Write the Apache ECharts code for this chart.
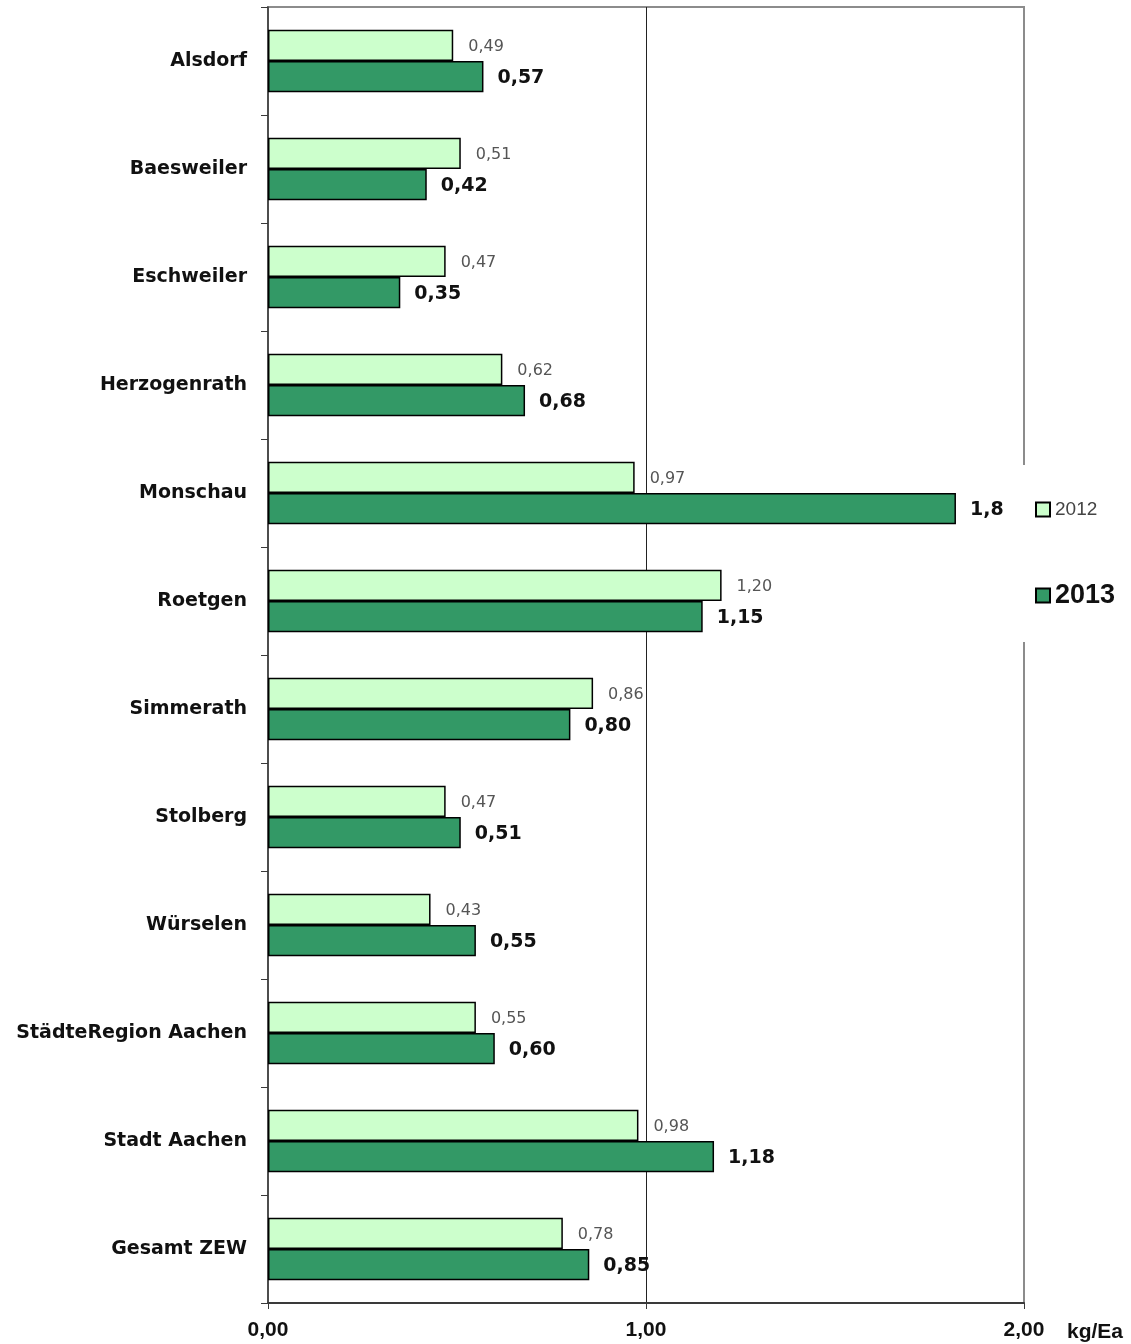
<!DOCTYPE html>
<html>
<head>
<meta charset="utf-8">
<title>kg/Ea 2012 / 2013</title>
<script src="https://cdn.jsdelivr.net/npm/echarts@6/dist/echarts.min.js"></script>
<style>
  html, body { margin: 0; padding: 0; background: #fff; }
  #chart { width: 1131px; height: 1344px; }
</style>
</head>
<body>
<div id="chart"></div>
<script>
// Kommunen / Gebiete, von oben nach unten
const categories = [
  'Alsdorf', 'Baesweiler', 'Eschweiler', 'Herzogenrath', 'Monschau', 'Roetgen',
  'Simmerath', 'Stolberg', 'Würselen', 'StädteRegion Aachen', 'Stadt Aachen', 'Gesamt ZEW'
];
// Werte in kg je Einwohner
const values2012 = [0.49, 0.51, 0.47, 0.62, 0.97, 1.20, 0.86, 0.47, 0.43, 0.55, 0.98, 0.78];
const values2013 = [0.57, 0.42, 0.35, 0.68, 1.82, 1.15, 0.80, 0.51, 0.55, 0.60, 1.18, 0.85];
const xTicks = [0, 1, 2];

const fmt = v => v.toFixed(2).replace('.', ',');

const chart = echarts.init(document.getElementById('chart'), null, { renderer: 'canvas' });

chart.setOption({
  animation: false,
  backgroundColor: '#fff',
  grid: {
    left: 268, right: 107, top: 7, bottom: 41,
    show: true, borderColor: '#8c8c8c', borderWidth: 2, backgroundColor: 'transparent'
  },
  legend: {
    orient: 'vertical',
    left: 1003, top: 465,
    padding: [35, 20, 33, 32],
    itemGap: 63,
    itemWidth: 14, itemHeight: 14,
    backgroundColor: '#fff',
    z: 10,
    selectedMode: false,
    data: [
      { name: '2012', icon: 'rect',
        textStyle: { fontFamily: 'Liberation Sans', fontSize: 19, color: '#444', fontWeight: 'normal' } },
      { name: '2013', icon: 'rect',
        textStyle: { fontFamily: 'Liberation Sans', fontSize: 27, color: '#111', fontWeight: 'bold' } }
    ]
  },
  xAxis: {
    type: 'value',
    min: xTicks[0], max: xTicks[xTicks.length - 1], interval: 1,
    name: 'kg/Ea',
    nameLocation: 'end',
    nameGap: 43,
    nameTextStyle: {
      fontFamily: 'Liberation Sans', fontWeight: 'bold', fontSize: 21, color: '#111',
      align: 'left', verticalAlign: 'top', padding: [19, 0, 0, 0]
    },
    axisLine: { show: true, lineStyle: { color: '#3a3a3a', width: 2 } },
    axisTick: { show: true, length: 6, lineStyle: { color: '#3a3a3a', width: 1 } },
    axisLabel: {
      margin: 17,
      fontFamily: 'Liberation Sans', fontWeight: 'bold', fontSize: 21, color: '#111',
      formatter: v => fmt(v)
    },
    splitLine: { show: true, lineStyle: { color: ['transparent', '#222', '#8c8c8c'], width: 1 } }
  },
  yAxis: {
    type: 'category',
    inverse: true,
    data: categories,
    axisLine: { show: true, lineStyle: { color: '#3a3a3a', width: 1.5 } },
    axisTick: { show: true, length: 7, lineStyle: { color: '#3a3a3a', width: 1 } },
    axisLabel: {
      margin: 21,
      fontFamily: 'DejaVu Sans', fontWeight: 'bold', fontSize: 19, color: '#111'
    },
    splitLine: { show: false }
  },
  series: [
    {
      name: '2012',
      type: 'bar',
      data: values2012,
      barGap: '0%',
      barCategoryGap: '42%',
      itemStyle: { color: '#ccffcc', borderColor: '#000', borderWidth: 1.5 },
      label: {
        show: true, position: 'right', distance: 15, offset: [0, 2],
        fontFamily: 'DejaVu Sans', fontSize: 16, color: '#555',
        formatter: p => fmt(p.value)
      }
    },
    {
      name: '2013',
      type: 'bar',
      data: values2013,
      barGap: '0%',
      barCategoryGap: '42%',
      itemStyle: { color: '#339966', borderColor: '#000', borderWidth: 1.5 },
      label: {
        show: true, position: 'right', distance: 14, offset: [0, 1],
        fontFamily: 'DejaVu Sans', fontWeight: 'bold', fontSize: 19, color: '#111',
        formatter: p => fmt(p.value)
      }
    }
  ]
});
</script>
</body>
</html>
